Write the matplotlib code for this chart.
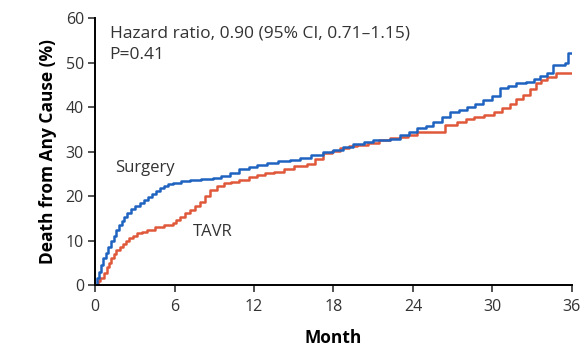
import matplotlib.pyplot as plt

plt.rcParams['font.family'] = ['Open Sans', 'DejaVu Sans']

# Kaplan-Meier style cumulative death (%)
surgery_month = [0, 0.15, 0.3, 0.45, 0.6, 0.8, 1.0, 1.2, 1.4, 1.6, 1.8, 2.0, 2.2, 2.45,
                 2.7, 3.0, 3.4, 3.7, 4.0, 4.3, 4.6, 4.9, 5.2, 5.5, 5.9, 6.5,
                 7.2, 8.0, 8.9, 9.5, 10.2, 10.9, 11.6, 12.2, 13.0, 13.8, 14.7, 15.5,
                 16.3, 17.2, 18.0, 18.7, 19.5, 20.3, 21.0, 22.3, 23.0, 23.7, 24.3,
                 25.0, 25.5, 26.2, 26.8, 27.5, 28.1, 28.7, 29.3, 30.0, 30.6, 31.2,
                 31.8, 32.5, 33.1, 33.6, 34.1, 34.6, 35.5, 35.7, 36.0]
surgery_pct = [0, 1.5, 3.0, 4.5, 6.0, 7.3, 8.5, 9.8, 11.0, 12.3, 13.5, 14.4, 15.3, 16.2,
               17.0, 17.7, 18.4, 19.1, 19.8, 20.5, 21.2, 21.7, 22.2, 22.6, 22.9,
               23.3, 23.6, 23.8, 24.0, 24.5, 25.1, 26.0, 26.6, 27.0, 27.4, 27.8, 28.1,
               28.6, 29.2, 29.8, 30.4, 31.1, 31.6, 32.1, 32.6, 32.8, 33.8, 34.5, 35.2,
               35.8, 36.7, 37.8, 38.9, 39.4, 40.1, 40.8, 41.6, 42.5, 44.2, 44.7, 45.3,
               45.7, 46.4, 46.9, 47.6, 49.4, 49.8, 52.1, 52.2]

tavr_month = [0, 0.2, 0.4, 0.65, 0.9, 1.05, 1.2, 1.4, 1.6, 1.85, 2.1, 2.35, 2.6, 2.9,
              3.2, 3.55, 3.9, 4.5, 5.2, 5.9, 6.15, 6.4, 6.8, 7.2, 7.55, 7.9,
              8.3, 8.7, 9.2, 9.7, 10.3, 10.9, 11.6, 12.2, 12.8, 13.5, 14.3, 15.0, 16.0,
              16.6, 17.2, 17.9, 18.5, 19.2, 19.8, 20.6, 21.4, 22.3, 23.0, 23.6, 24.3,
              26.4, 27.3, 28.0, 28.6, 29.4, 30.1, 30.7, 31.3, 31.8, 32.3, 32.8, 33.3,
              33.7, 34.1, 34.8, 36.0]
tavr_pct = [0, 0.8, 1.5, 2.8, 4.1, 5.0, 6.0, 7.0, 7.9, 8.6, 9.3, 9.9, 10.5, 11.1,
            11.6, 12.0, 12.4, 13.0, 13.5, 13.9, 14.6, 15.3, 16.1, 16.9, 17.8,
            18.7, 20.0, 21.3, 22.2, 22.9, 23.2, 23.6, 24.2, 24.7, 25.1, 25.5, 26.1,
            26.7, 27.3, 28.4, 29.6, 30.2, 30.8, 31.2, 31.5, 32.0, 32.5, 33.0, 33.3,
            33.8, 34.4, 36.0, 36.7, 37.3, 37.8, 38.3, 38.9, 39.8, 40.8, 41.8, 42.7,
            44.0, 45.3, 46.0, 46.8, 47.6, 47.6]

x_ticks = [0, 6, 12, 18, 24, 30, 36]
y_ticks = [0, 10, 20, 30, 40, 50, 60]

fig = plt.figure(figsize=(5.83, 3.48), dpi=100)
ax = fig.add_axes([0.163, 0.181, 0.818, 0.767])

ax.plot(tavr_month, tavr_pct, drawstyle='steps-post', color='#e0583a', lw=1.8)
ax.plot(surgery_month, surgery_pct, drawstyle='steps-post', color='#1f63c0', lw=1.8)

ax.set_xlim(0, 36)
ax.set_ylim(0, 60)
ax.set_xticks(x_ticks)
ax.set_yticks(y_ticks)
ax.tick_params(labelsize=11.5, length=5, width=1.2, colors='#333333', direction='out', pad=3)
ax.tick_params(axis='x', pad=5)
for s in ['top', 'right']:
    ax.spines[s].set_visible(False)
for s in ['left', 'bottom']:
    ax.spines[s].set_linewidth(1.4)

ax.set_xlabel('Month', fontsize=12.5, fontweight='bold', labelpad=10)
ax.set_ylabel('Death from Any Cause (%)', fontsize=12.5, fontweight='bold', labelpad=6)

ax.text(1.1, 56.6, 'Hazard ratio, 0.90 (95% CI, 0.71\u20131.15)', fontsize=12.5, color='#333333', va='center')
ax.text(1.1, 51.7, 'P=0.41', fontsize=12.5, color='#333333', va='center')
ax.text(1.5, 26.3, 'Surgery', fontsize=12, color='#333333', va='center')
ax.text(7.4, 11.9, 'TAVR', fontsize=12, color='#333333', va='center')

fig.savefig('out.png', dpi=100)
